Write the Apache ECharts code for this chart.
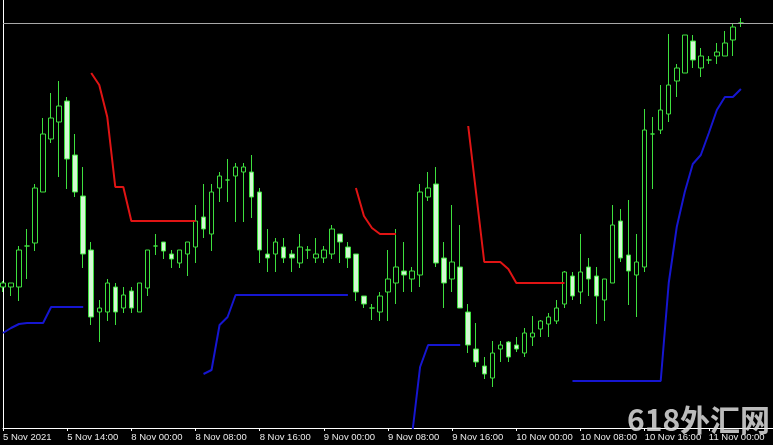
<!DOCTYPE html>
<html><head><meta charset="utf-8">
<script src="https://cdn.jsdelivr.net/npm/echarts@6/dist/echarts.min.js"></script>
<style>html,body{margin:0;padding:0;background:#000;}#c{width:773px;height:445px;}</style>
</head><body><div id="c"></div>
<script>
// H1 bars, trading sessions shown on the chart
const sessions = [['5 Nov',6,21],['8 Nov',0,23],['9 Nov',0,23],['10 Nov',0,23],['11 Nov',0,4]];
const tickLabels = ['5 Nov 2021','5 Nov 14:00','8 Nov 00:00','8 Nov 08:00','8 Nov 16:00','9 Nov 00:00',
  '9 Nov 08:00','9 Nov 16:00','10 Nov 00:00','10 Nov 08:00','10 Nov 16:00','11 Nov 00:00'];

const opens = [
 1814.3,1814.3,1814.3,1818.4,1818.7,1823.8,1829.1,1830.8,1832.9,1827.5,
 1823.4,1818.0,1811.8,1811.8,1814.3,1812.2,1813.9,1811.8,1814.2,1818.4,
 1818.8,1817.6,1816.7,1817.6,1818.3,1821.3,1819.6,1824.2,1825.0,1825.4,
 1825.8,1825.8,1823.8,1817.6,1817.6,1818.3,1817.6,1816.7,1818.0,1817.2,
 1817.2,1817.6,1819.6,1818.3,1817.6,1813.4,1812.2,1811.8,1813.8,1814.7,
 1815.9,1815.1,1815.5,1823.3,1824.6,1817.2,1815.1,1816.3,1811.8,1808.1,
 1806.4,1805.2,1808.1,1808.8,1808.5,1807.7,1809.3,1810.1,1810.6,1810.9,
 1812.6,1815.4,1813.8,1816.3,1815.4,1813.0,1814.7,1820.9,1817.5,1815.5,
 1816.3,1829.6,1830.0,1831.6,1834.9,1835.7,1838.9,1836.2,1837.0,1837.4,
 1837.4,1839.0,1840.7];
const highs = [
 1814.9,1814.7,1818.4,1820.1,1824.6,1831.2,1833.7,1834.9,1833.3,1829.6,
 1826.3,1818.8,1813.0,1815.1,1814.7,1814.3,1814.3,1814.7,1818.0,1819.6,
 1818.8,1818.0,1818.0,1818.8,1822.5,1824.6,1824.6,1825.8,1827.1,1826.7,
 1826.7,1827.5,1824.2,1820.1,1819.2,1819.2,1818.0,1819.6,1818.4,1819.2,
 1818.4,1820.5,1819.6,1818.8,1817.6,1813.4,1812.6,1813.8,1818.0,1820.1,
 1818.8,1816.3,1824.6,1825.8,1826.3,1818.8,1822.5,1820.5,1812.6,1810.7,
 1807.3,1808.9,1808.9,1808.9,1809.3,1810.2,1811.4,1811.0,1811.7,1813.0,
 1815.9,1815.8,1819.6,1817.2,1816.3,1815.1,1822.5,1822.1,1823.0,1819.6,
 1832.1,1831.3,1834.5,1839.6,1836.6,1839.5,1839.5,1838.2,1837.4,1838.7,
 1839.9,1840.7,1841.2];
const lows = [
 1813.8,1813.4,1812.9,1815.1,1817.9,1823.8,1828.7,1825.3,1824.1,1823.3,
 1816.2,1810.5,1808.8,1810.9,1810.5,1811.7,1811.7,1811.8,1813.4,1817.5,
 1817.1,1816.2,1816.2,1815.4,1816.7,1819.2,1817.9,1822.8,1822.8,1820.8,
 1820.8,1821.2,1816.7,1815.8,1815.8,1816.7,1815.8,1816.2,1817.1,1816.7,
 1816.7,1817.1,1816.7,1816.2,1812.9,1812.2,1811.0,1810.9,1810.9,1812.6,
 1813.8,1813.8,1814.3,1822.9,1816.3,1812.2,1813.8,1812.2,1807.7,1806.3,
 1805.1,1804.3,1806.8,1806.8,1807.8,1807.3,1808.4,1809.3,1809.3,1810.6,
 1812.2,1813.0,1812.6,1813.4,1810.6,1810.9,1814.7,1816.8,1812.5,1811.3,
 1815.8,1824.1,1829.6,1830.8,1833.3,1835.7,1836.2,1835.3,1836.6,1836.6,
 1837.4,1837.4,1840.3];
const closes = [
 1814.7,1814.7,1818.0,1818.4,1824.2,1829.6,1831.2,1832.4,1827.1,1823.8,
 1817.6,1811.3,1812.2,1814.7,1811.8,1813.5,1812.2,1814.7,1818.0,1818.4,
 1817.9,1817.1,1818.0,1818.8,1820.9,1820.1,1823.8,1825.4,1825.0,1826.3,
 1826.3,1823.3,1818.0,1817.2,1818.8,1817.2,1817.2,1818.3,1818.0,1817.6,
 1818.0,1820.1,1818.8,1817.2,1813.8,1812.6,1812.2,1813.4,1815.1,1816.3,
 1815.5,1815.9,1823.8,1824.2,1816.7,1814.7,1816.8,1812.2,1808.5,1806.8,
 1805.6,1807.7,1808.5,1807.3,1808.1,1809.7,1809.7,1810.9,1811.3,1812.2,
 1815.8,1813.4,1815.8,1815.1,1813.4,1815.1,1820.5,1817.2,1815.9,1816.8,
 1830.0,1829.6,1832.0,1834.5,1836.2,1839.5,1837.0,1837.4,1837.0,1837.8,
 1838.7,1840.3,1840.7];

const _ = null;
const upperLine = [
 _,_,_,_,_,_,_,_,_,_,
 _,1835.7,1834.5,1831.3,1824.3,1824.3,1820.9,1820.9,1820.9,1820.9,
 1820.9,1820.9,1820.9,1820.9,1820.9,_,_,_,_,_,
 _,_,_,_,_,_,_,_,_,_,
 _,_,_,_,1824.2,1821.4,1820.2,1819.6,1819.6,1819.6,
 _,_,_,_,_,_,_,_,1830.4,1823.6,
 1816.8,1816.8,1816.8,1816.1,1814.7,1814.7,1814.7,1814.7,1814.7,1814.7,
 1814.7,_,_,_,_,_,_,_,_,_,
 _,_,_,_,_,_,_,_,_,_,
 _,_,_];
const lowerLine = [
 1809.7,1810.2,1810.6,1810.7,1810.7,1810.7,1812.3,1812.3,1812.3,1812.3,
 1812.3,_,_,_,_,_,_,_,_,_,
 _,_,_,_,_,1805.6,1806.0,1810.5,1811.3,1813.5,
 1813.5,1813.5,1813.5,1813.5,1813.5,1813.5,1813.5,1813.5,1813.5,1813.5,
 1813.5,1813.5,1813.5,1813.5,_,_,_,_,_,_,
 _,1799.5,1806.3,1808.5,1808.5,1808.5,1808.5,1808.5,_,_,
 _,_,_,_,_,_,_,_,_,_,
 _,1804.9,1804.9,1804.9,1804.9,1804.9,1804.9,1804.9,1804.9,1804.9,
 1804.9,1804.9,1804.9,1814.7,1820.3,1823.8,1826.6,1827.5,1829.7,1832.0,
 1833.3,1833.3,1834.1];

const categories = [];
sessions.forEach(([d, a, b]) => { for (let h = a; h <= b; h++) categories.push(d + ' ' + String(h).padStart(2, '0') + ':00'); });
for (let k = 1; k <= 4; k++) categories.push('pad' + k);

const candles = opens.map((o, i) => [o, closes[i], lows[i], highs[i]]);
const lastClose = closes[closes.length - 1];

const chart = echarts.init(document.getElementById('c'), null, {renderer: 'canvas'});
chart.setOption({
  backgroundColor: '#000000',
  animation: false,
  grid: {left: 3, right: 0, top: 0, bottom: 17, containLabel: false, outerBoundsMode: 'none'},
  xAxis: {
    type: 'category', data: categories, boundaryGap: false,
    axisLine: {show: true, lineStyle: {color: '#ffffff', width: 1}},
    axisTick: {show: true, interval: 7, length: 3, lineStyle: {color: '#ffffff'}},
    axisLabel: {
      interval: 7, align: 'left', margin: 4, color: '#e8e8e8',
      fontFamily: 'Liberation Sans', fontSize: 9.5,
      formatter: (v, idx) => (idx % 8 === 0 && tickLabels[idx / 8]) ? tickLabels[idx / 8] : ''
    },
    splitLine: {show: false}
  },
  yAxis: {
    type: 'value', min: 1800.2, max: 1843.0,
    axisLine: {show: true, lineStyle: {color: '#ffffff', width: 1}},
    axisTick: {show: false}, axisLabel: {show: false}, splitLine: {show: false}
  },
  graphic: [{
    type: 'text', left: 627, top: 405, z: 100, silent: true,
    style: {text: '618外汇网', fill: 'rgba(220,220,220,0.85)', font: 'bold 30px "Noto Sans CJK SC"'}
  }],
  series: [
    {
      type: 'candlestick', data: candles, barWidth: 5, clip: false,
      itemStyle: {color: '#000000', color0: '#d4f8d4', borderColor: '#3ee03e', borderColor0: '#3ee03e', borderWidth: 1},
      markLine: {
        silent: true, symbol: ['none', 'none'], label: {show: false},
        lineStyle: {color: '#a8a8a8', width: 1, type: 'solid'},
        data: [{yAxis: lastClose}]
      }
    },
    {type: 'line', data: upperLine, symbol: 'none', connectNulls: false, lineStyle: {color: '#e01414', width: 2}, z: 3},
    {type: 'line', data: lowerLine, symbol: 'none', connectNulls: false, lineStyle: {color: '#1616d0', width: 2}, z: 3}
  ]
});
</script></body></html>
